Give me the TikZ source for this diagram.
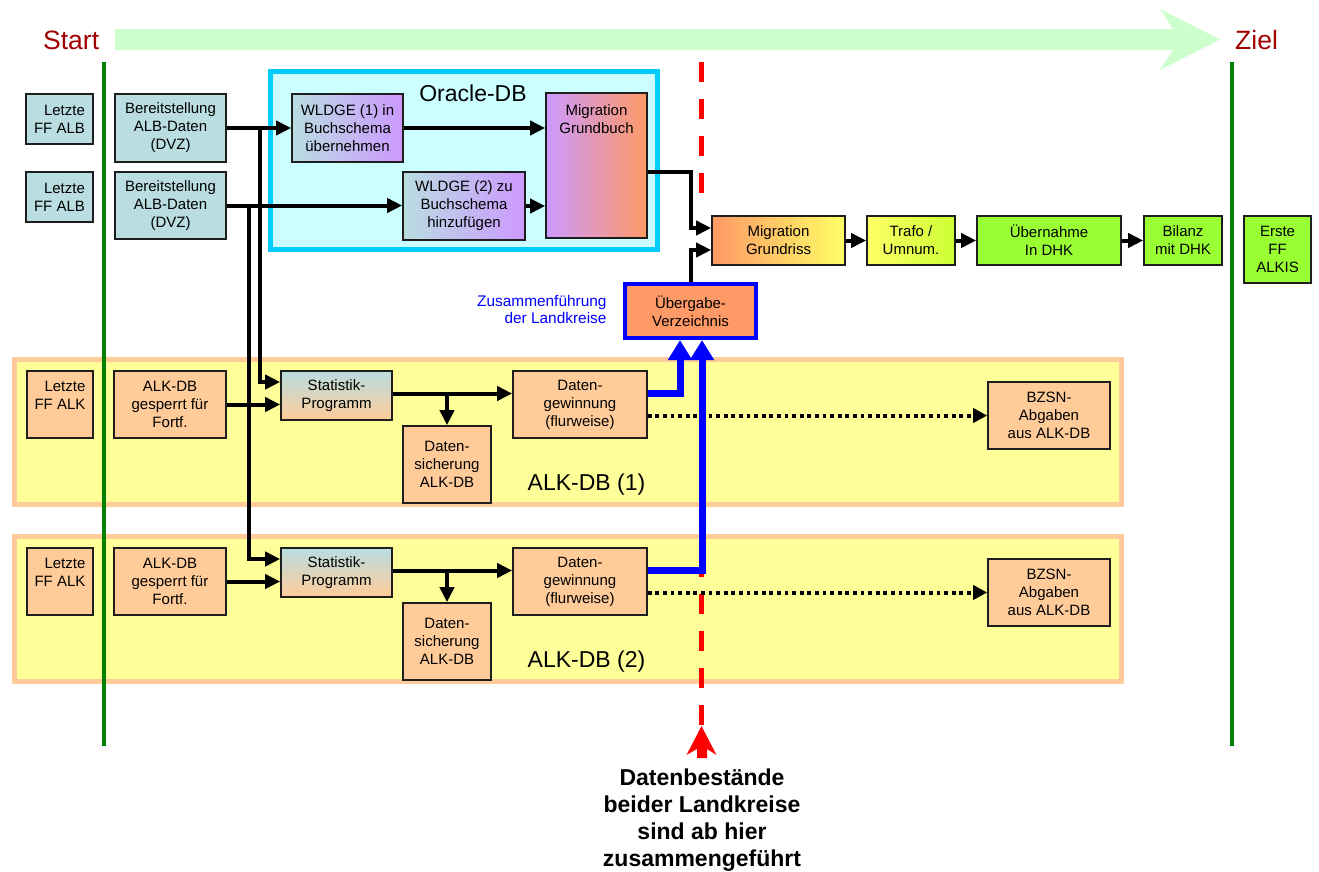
\documentclass[tikz,border=0pt]{standalone}
\usepackage{fontspec}
\setmainfont{Liberation Sans}
\usetikzlibrary{arrows.meta}
\definecolor{bgrey}{RGB}{185,221,225}
\definecolor{purp}{RGB}{204,153,255}
\definecolor{orng}{RGB}{255,153,102}
\definecolor{peach}{RGB}{255,204,153}
\definecolor{lyel}{RGB}{255,255,153}
\definecolor{yel}{RGB}{255,255,102}
\definecolor{lime}{RGB}{153,255,51}
\definecolor{ygreen}{RGB}{204,255,51}
\definecolor{cyb}{RGB}{0,204,255}
\definecolor{cyf}{RGB}{204,255,255}
\definecolor{mint}{RGB}{204,255,204}
\definecolor{dred}{RGB}{160,0,0}
\definecolor{dgreen}{RGB}{0,128,0}
\definecolor{bord}{RGB}{30,30,30}
\newcommand\bfnt{\fontsize{15}{18}\selectfont}
\newcommand\mybox[6]{\node[bxs,#6,minimum width={(#4-#2)*1pt},minimum height={(#5-#3)*1pt}] (#1) at ({(#2+#4)/2},{(#3+#5)/2})}
\begin{document}
\begin{tikzpicture}[x=1pt,y=-1pt,
  bxs/.style={draw=bord,line width=1.6pt,inner sep=2pt,align=center,font=\bfnt},
  arr/.style={draw=black,line width=4pt,-{Triangle[length=15pt,width=14pt]}},
  dotarr/.style={draw=black,line width=4pt,dash pattern=on 3.8pt off 3.8pt,-{Triangle[length=14pt,width=14pt]}},
  barr/.style={draw=blue,line width=7pt,-{Triangle[length=20pt,width=23pt]}},
  cont/.style={line width=5pt,inner sep=0pt},
  reddash/.style={draw=red,line width=5pt,dash pattern=on 20pt off 17pt}]
\useasboundingbox (0,0) rectangle (1319,871);
% containers
\node[cont,draw=cyb,fill=cyf,minimum width=387pt,minimum height=178pt] (oracle) at (464,160.5) {};
\node[cont,draw=peach,fill=lyel,minimum width=1107pt,minimum height=145pt] (alkc1) at (568,432) {};
\node[cont,draw=peach,fill=lyel,minimum width=1107pt,minimum height=145pt] (alkc2) at (568,609) {};
\node[font=\fontsize{23}{27}\selectfont] (oratitle) at (473,93) {Oracle-DB};
\node[font=\fontsize{23}{27}\selectfont,anchor=base] (alkt1) at (586.5,490) {ALK-DB (1)};
\node[font=\fontsize{23}{27}\selectfont,anchor=base] (alkt2) at (586.5,667) {ALK-DB (2)};
% time arrow
\fill[mint] (115,29) -- (1173,29) -- (1160,9) -- (1220,39.5) -- (1160,70) -- (1173,50) -- (115,50) -- cycle;
\node[font=\fontsize{26.5}{30}\selectfont,text=dred,anchor=base west,inner sep=0pt] (start) at (43,49) {Start};
\node[font=\fontsize{26.5}{30}\selectfont,text=dred,anchor=base west,inner sep=0pt] (ziel) at (1235,49) {Ziel};
\draw[dgreen,line width=4pt] (103.5,62) -- (103.5,746);
\draw[dgreen,line width=4pt] (1232,62) -- (1232,746);
% red dashed line
\draw[reddash] (701.5,62) -- (701.5,193);
\draw[reddash] (701.5,725) -- (701.5,572);
\fill[red] (701.5,726) -- (716.5,755) -- (707,749) -- (707,758) -- (697,758) -- (697,749) -- (686.5,755) -- cycle;
\node[font=\fontsize{23}{27}\selectfont\bfseries,align=center] (merged) at (702,820) {Datenbestände\\beider Landkreise\\sind ab hier\\zusammengeführt};
% top boxes
\mybox{alb1}{26}{94}{93}{144}{fill=bgrey,align=right}{Letzte\\FF ALB};
\mybox{alb2}{26}{172}{93}{222}{fill=bgrey,align=right}{Letzte\\FF ALB};
\mybox{ber1}{115}{94}{226}{162}{fill=bgrey}{Bereitstellung\\ALB-Daten\\(DVZ)};
\mybox{ber2}{115}{172}{226}{239}{fill=bgrey}{Bereitstellung\\ALB-Daten\\(DVZ)};
\mybox{wl1}{292}{94}{403}{162}{left color=bgrey,right color=purp}{WLDGE (1) in\\Buchschema\\übernehmen};
\mybox{wl2}{403}{172}{525}{240}{left color=bgrey,right color=purp}{WLDGE (2) zu\\Buchschema\\hinzufügen};
\mybox{mgb}{546}{93}{647}{238}{left color=purp,right color=orng}{};
\node[font=\bfnt,align=center] (mgbtxt) at (596.5,119) {Migration\\Grundbuch};
\mybox{mgr}{712}{216}{845}{265}{left color=orng,right color=yel}{Migration\\Grundriss};
\mybox{trafo}{867}{216}{955}{265}{left color=yel,right color=ygreen}{Trafo /\\Umnum.};
\mybox{uebn}{977}{216}{1121}{265}{fill=lime}{Übernahme\\In DHK};
\mybox{bil}{1144}{216}{1222}{265}{fill=lime}{Bilanz\\mit DHK};
\mybox{erste}{1244}{216}{1311}{283}{fill=lime}{Erste\\FF\\ALKIS};
\mybox{uebg}{625}{284}{756}{338}{fill=orng,draw=blue,line width=4pt}{Übergabe-\\Verzeichnis};
\node[font=\fontsize{15.4}{17}\selectfont,text=blue,align=right,anchor=east] (zusf) at (610,309) {Zusammenführung\\der Landkreise};
% ALK row 1
\mybox{lalk1}{27}{371}{93}{438}{fill=peach,align=right}{Letzte\\FF ALK\\~};
\mybox{gesp1}{114}{371}{226}{438}{fill=peach}{ALK-DB\\gesperrt für\\Fortf.};
\mybox{stat1}{281}{371}{392}{420}{top color=bgrey,bottom color=peach}{Statistik-\\Programm};
\mybox{dsich1}{403}{426}{491}{503}{fill=peach}{Daten-\\sicherung\\ALK-DB};
\mybox{dgew1}{513}{371}{647}{438}{fill=peach}{Daten-\\gewinnung\\(flurweise)};
\mybox{bzsn1}{988}{382}{1110}{449}{fill=peach}{BZSN-\\Abgaben\\aus ALK-DB};
% ALK row 2
\mybox{lalk2}{27}{548}{93}{615}{fill=peach,align=right}{Letzte\\FF ALK\\~};
\mybox{gesp2}{114}{548}{226}{615}{fill=peach}{ALK-DB\\gesperrt für\\Fortf.};
\mybox{stat2}{281}{548}{392}{597}{top color=bgrey,bottom color=peach}{Statistik-\\Programm};
\mybox{dsich2}{403}{603}{491}{680}{fill=peach}{Daten-\\sicherung\\ALK-DB};
\mybox{dgew2}{513}{548}{647}{615}{fill=peach}{Daten-\\gewinnung\\(flurweise)};
\mybox{bzsn2}{988}{559}{1110}{626}{fill=peach}{BZSN-\\Abgaben\\aus ALK-DB};
% connectors
\draw[arr] (ber1.east) -- (wl1.west);
\draw[arr] (ber2.east) -- (ber2.east -| wl2.west);
\draw[arr] (wl1.east) -- (wl1.east -| mgb.west);
\draw[arr] (wl2.east) -- (wl2.east -| mgb.west);
\path (ber1.east) ++(33,0) coordinate (j1);
\path (ber2.east) ++(22,0) coordinate (j2);
\draw[arr] (j1) |- ([yshift=13.5pt]stat1.west);
\draw[arr] (j2) |- ([yshift=13.5pt]stat2.west);
\draw[arr] ([yshift=-6.5pt]mgb.east) -- ++(43,0) |- ([yshift=12.5pt]mgr.west);
\draw[arr] (uebg.north) |- ([yshift=-9.5pt]mgr.west);
\draw[arr] (mgr.east) -- (trafo.west);
\draw[arr] (trafo.east) -- (uebn.west);
\draw[arr] (uebn.east) -- (bil.west);
\draw[arr] (gesp1.east) -- (gesp1.east -| stat1.west);
\draw[arr] (gesp2.east) -- (gesp2.east -| stat2.west);
\draw[arr] ([yshift=2pt]stat1.east) -- ([yshift=2pt]stat1.east -| dgew1.west);
\draw[arr] ([yshift=2pt]stat2.east) -- ([yshift=2pt]stat2.east -| dgew2.west);
\draw[arr] ([yshift=2pt]stat1.east -| dsich1.north) -- (dsich1.north);
\draw[arr] ([yshift=2pt]stat2.east -| dsich2.north) -- (dsich2.north);
\draw[dotarr] (bzsn1.west -| dgew1.east) -- (bzsn1.west);
\draw[dotarr] (bzsn2.west -| dgew2.east) -- (bzsn2.west);
\draw[barr] ([yshift=11.5pt]dgew1.east) -| ([xshift=-10.5pt]uebg.south);
\draw[barr] ([yshift=11.5pt]dgew2.east) -| ([xshift=11.5pt]uebg.south);
\end{tikzpicture}
\end{document}
